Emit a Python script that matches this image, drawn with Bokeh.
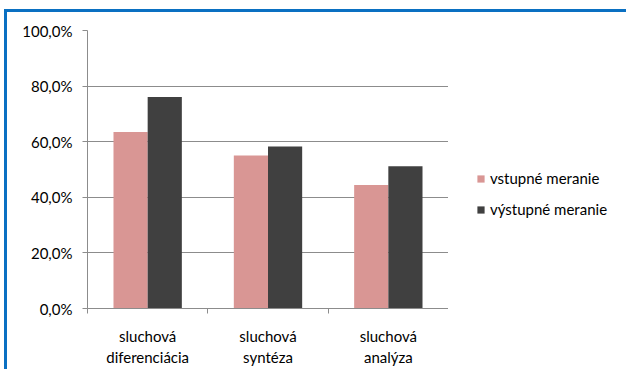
from bokeh.plotting import figure
from bokeh.layouts import row
from bokeh.models import FixedTicker, Range1d, Legend, LegendItem, ColumnDataSource
from bokeh.transform import dodge
from bokeh.embed import file_html
from bokeh.resources import INLINE

categories = ["sluchová\ndiferenciácia", "sluchová\nsyntéza", "sluchová\nanalýza"]
vstupne = [63.5, 55.0, 44.4]
vystupne = [76.1, 58.3, 51.2]
series_names = ["vstupné meranie", "výstupné meranie"]
series_colors = ["#D99694", "#404040"]
y_ticks = [0, 20, 40, 60, 80, 100]
y_tick_labels = ["0,0%", "20,0%", "40,0%", "60,0%", "80,0%", "100,0%"]

FONT = "Lato"
GRID = "#8C8C8C"

centers = [i + 0.5 for i in range(len(categories))]
src = ColumnDataSource(dict(x=centers, a=vstupne, b=vystupne))

p = figure(width=441, height=357,
           output_backend="svg", toolbar_location=None,
           x_range=Range1d(0, len(categories)), y_range=Range1d(0, 100),
           min_border_left=80, min_border_top=18, min_border_bottom=57,
           min_border_right=0)

bw = 0.284
p.vbar(x=dodge("x", -bw / 2, range=p.x_range), top="a", width=bw, source=src,
       fill_color=series_colors[0], line_color=None)
p.vbar(x=dodge("x", bw / 2, range=p.x_range), top="b", width=bw, source=src,
       fill_color=series_colors[1], line_color=None)

p.outline_line_color = None
p.xgrid.grid_line_color = None
p.ygrid.grid_line_color = GRID
p.ygrid.grid_line_width = 1

# x axis
p.xaxis.ticker = FixedTicker(ticks=centers, minor_ticks=list(range(len(categories) + 1)))
p.xaxis.major_label_overrides = {c: lab for c, lab in zip(centers, categories)}
p.xaxis.major_tick_line_color = None
p.xaxis.minor_tick_line_color = GRID
p.xaxis.minor_tick_out = 5
p.xaxis.minor_tick_in = 0
p.xaxis.axis_line_color = GRID
p.xaxis.major_label_standoff = 12
p.xaxis.major_label_text_font = FONT
p.xaxis.major_label_text_font_size = "15px"
p.xaxis.major_label_text_color = "#000000"

# y axis
p.yaxis.ticker = FixedTicker(ticks=y_ticks, minor_ticks=[])
p.yaxis.major_label_overrides = {t: lab for t, lab in zip(y_ticks, y_tick_labels)}
p.yaxis.major_tick_out = 5
p.yaxis.major_tick_in = 0
p.yaxis.major_tick_line_color = GRID
p.yaxis.axis_line_color = GRID
p.yaxis.major_label_standoff = 10
p.yaxis.major_label_text_font = FONT
p.yaxis.major_label_text_font_size = "15px"
p.yaxis.major_label_text_color = "#000000"

# legend panel (swatches only; renderers hidden)
q = figure(width=178, height=357, output_backend="svg", toolbar_location=None,
           x_range=Range1d(0, 1), y_range=Range1d(0, 1),
           x_axis_location=None, y_axis_location=None, min_border=0)
q.outline_line_color = None
q.grid.grid_line_color = None
l1 = q.vbar(x=[0], top=[0], width=1, fill_color=series_colors[0], line_color=None, visible=False)
l2 = q.vbar(x=[0], top=[0], width=1, fill_color=series_colors[1], line_color=None, visible=False)

legend = Legend(items=[LegendItem(label=series_names[0], renderers=[l1]),
                       LegendItem(label=series_names[1], renderers=[l2])],
                location=(28, 89), glyph_width=9, glyph_height=9,
                label_standoff=5, label_height=20, spacing=11, padding=0, margin=0,
                border_line_color=None, background_fill_alpha=0,
                label_text_font=FONT, label_text_font_size="15px",
                label_text_color="#000000")
q.add_layout(legend, "center")

layout = row(p, q, margin=(9, 0, 0, 4),
             styles={"border-top": "3px solid #0A70C2", "border-left": "3px solid #0A70C2"})

open("out.html", "w").write(file_html(layout, INLINE))
